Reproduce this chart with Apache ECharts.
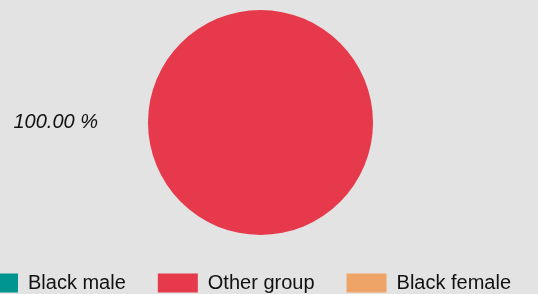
<!DOCTYPE html>
<html>
<head>
<meta charset="utf-8">
<script src="https://cdn.jsdelivr.net/npm/echarts@6/dist/echarts.min.js"></script>
<style>
  html, body { margin: 0; padding: 0; background: #e3e3e3; }
  #chart { width: 538px; height: 294px; }
</style>
</head>
<body>
<div id="chart"></div>
<script>
var groups = ['Black male', 'Other group', 'Black female'];
var values = [0, 100, 0];
var colors = ['#00968f', '#e6394b', '#eea466'];

var myChart = echarts.init(document.getElementById('chart'));

var pieData = groups.map(function (name, i) {
  return { name: name, value: values[i], itemStyle: { color: colors[i] } };
});

var option = {
  backgroundColor: '#e3e3e3',
  legend: {
    bottom: -4,
    left: -27,
    itemWidth: 40,
    itemHeight: 19,
    itemGap: 32,
    icon: 'rect',
    textStyle: {
      fontFamily: 'Liberation Sans',
      fontSize: 20,
      color: '#111',
      padding: [0, 0, 0, 5]
    },
    data: groups
  },
  series: [{
    type: 'pie',
    center: [260.5, 122.5],
    radius: 112.5,
    startAngle: 0,
    stillShowZeroSum: false,
    avoidLabelOverlap: false,
    label: {
      show: true,
      position: 'outside',
      fontFamily: 'Liberation Sans',
      fontStyle: 'italic',
      fontSize: 20,
      color: '#111',
      formatter: function (p) {
        return p.value > 0 ? p.percent.toFixed(2) + ' %' : '';
      }
    },
    labelLine: { show: false, length: 20, length2: 25 },
    emphasis: { disabled: true },
    data: pieData
  }]
};
myChart.setOption(option);
</script>
</body>
</html>
